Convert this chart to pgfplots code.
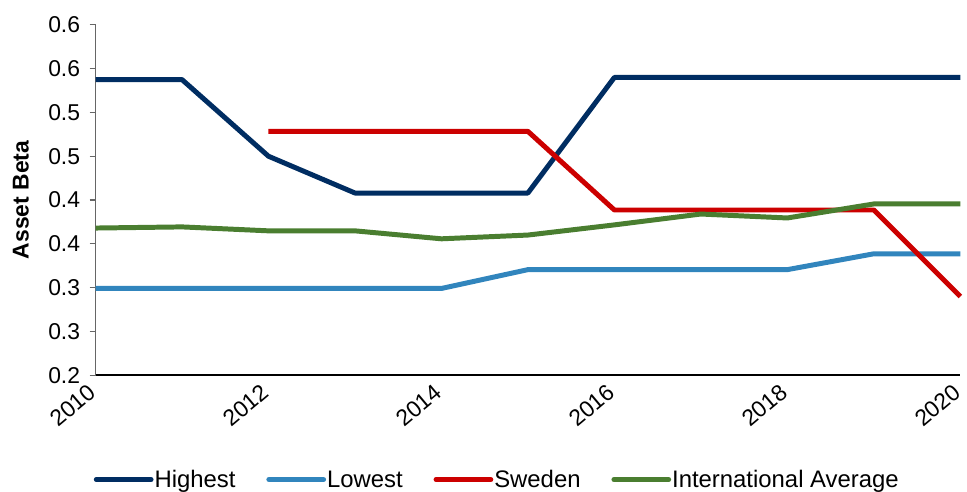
\documentclass[border=0pt]{standalone}
\usepackage{pgfplots}
\pgfplotsset{compat=1.18}
\usepackage{fontspec}
\setmainfont{Liberation Sans}
\definecolor{cHigh}{RGB}{0,45,98}
\definecolor{cLow}{RGB}{49,133,189}
\definecolor{cSwe}{RGB}{204,0,0}
\definecolor{cInt}{RGB}{74,126,48}
\begin{document}
\begin{tikzpicture}
\begin{axis}[
  scale only axis,
  width=869pt, height=352pt,
  xmin=2010, xmax=2020,
  ymin=0.2, ymax=0.6,
  axis x line*=bottom,
  axis y line*=left,
  x axis line style={black, line width=1.6pt, -},
  y axis line style={gray!80!black, line width=1.2pt, -},
  xtick={2010,2012,2014,2016,2018,2020},
  xticklabels={2010,2012,2014,2016,2018,2020},
  major x tick style={draw=none},
  ytick={0.2,0.25,0.3,0.35,0.4,0.45,0.5,0.55,0.6},
  yticklabels={0.2,0.3,0.3,0.4,0.4,0.5,0.5,0.6,0.6},
  tick align=outside,
  major tick length=6pt,
  major y tick style={gray!80!black, line width=1.2pt},
  /pgf/number format/assume math mode=true,
  tick label style={font=\fontsize{23}{27}\selectfont},
  yticklabel style={xshift=-6pt},
  xticklabel style={rotate=40, anchor=east, yshift=-4pt, xshift=-4pt},
  ylabel={Asset Beta},
  ylabel style={font=\fontsize{23}{27}\selectfont\bfseries, at={(axis description cs:-0.0863,0.5)}, anchor=center},
  legend columns=4,
  legend style={draw=none, fill=none, at={(axis description cs:0.464,-0.298)}, anchor=center,
    font=\fontsize{24}{28}\selectfont, inner sep=0pt,
    /tikz/every even column/.append style={column sep=30pt},
    nodes={inner sep=1pt}},
  legend image code/.code={\draw[#1, line cap=round] (0pt,0pt) -- (55pt,0pt);},
  every axis plot/.append style={line width=5pt, line join=round},
  clip=false,
]
\addplot[cHigh] coordinates {(2010,0.5375) (2011,0.5375) (2012,0.450) (2013,0.408) (2014,0.408) (2015,0.408) (2016,0.540) (2017,0.540) (2018,0.540) (2019,0.540) (2020,0.540)};
\addlegendentry{Highest}
\addplot[cLow] coordinates {(2010,0.299) (2011,0.299) (2012,0.299) (2013,0.299) (2014,0.299) (2015,0.3205) (2016,0.3205) (2017,0.3205) (2018,0.3205) (2019,0.3386) (2020,0.3386)};
\addlegendentry{Lowest}
\addplot[cSwe] coordinates {(2012,0.4784) (2013,0.4784) (2014,0.4784) (2015,0.4784) (2016,0.3886) (2017,0.3886) (2018,0.3886) (2019,0.3886) (2020,0.2898)};
\addlegendentry{Sweden}
\addplot[cInt] coordinates {(2010,0.368) (2011,0.3693) (2012,0.3648) (2013,0.3648) (2014,0.3557) (2015,0.360) (2016,0.3716) (2017,0.384) (2018,0.3795) (2019,0.3955) (2020,0.3955)};
\addlegendentry{International Average}
\end{axis}
\path (-96pt,-117pt) rectangle (871pt,377pt);
\end{tikzpicture}
\end{document}
